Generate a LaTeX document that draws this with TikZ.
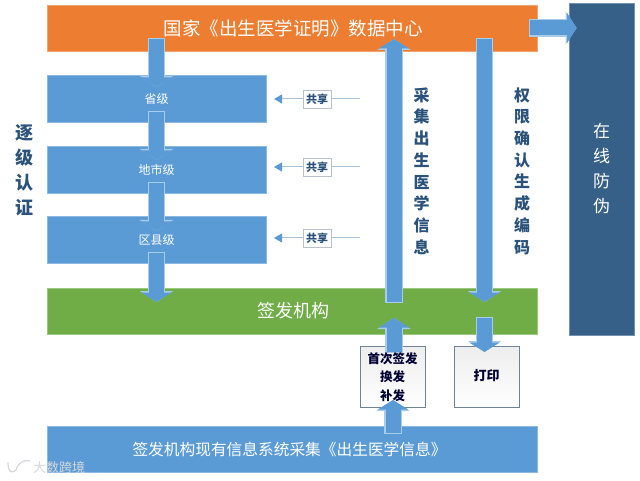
\documentclass[tikz,border=0pt]{standalone}
\usepackage{fontspec}
\setmainfont{Noto Sans CJK SC}
\usetikzlibrary{arrows.meta,shadings}
\definecolor{orangebar}{HTML}{ED7D31}
\definecolor{bluebar}{HTML}{5B9BD5}
\definecolor{greenbar}{HTML}{70AD47}
\definecolor{darkbar}{HTML}{376088}
\definecolor{edgeblue}{HTML}{A9CCEA}
\definecolor{labelblue}{HTML}{2A527A}
\definecolor{thinline}{HTML}{A9C2D8}
\definecolor{boxedge}{HTML}{6F8296}
\definecolor{marktext}{HTML}{D4D8DC}
\newcommand{\fs}[2]{\fontsize{#1}{#2}\selectfont}
\tikzset{
  x=1pt,y=-1pt,
  bar/.style={rectangle,inner sep=0pt,outer sep=0pt,text=white,draw=#1!70!white,fill=#1,line width=0.8pt},
  blockarrow/.style={draw=bluebar,line width=15pt,-{Triangle[width=30pt,length=9.5pt]},
    preaction={draw=edgeblue,line width=17.5pt,shorten <=-1pt,-{Triangle[width=33pt,length=11pt]}}},
  thinarrow/.style={draw=thinline,line width=1pt,-{Triangle[width=9pt,length=8pt,color=bluebar]}},
  sharebox/.style={rectangle,draw=boxedge!50!white,fill=white,line width=0.5pt,inner sep=0pt,outer sep=0pt,
    minimum width=28pt,minimum height=18pt,text=labelblue,font=\fs{11}{13}\bfseries},
  whitebox/.style={rectangle,draw=boxedge,top color=black!7,bottom color=white,line width=1pt,inner sep=0pt,outer sep=0pt,
    minimum width=65pt,minimum height=61pt},
  vlabel/.style={text=labelblue,align=center,inner sep=0pt,font=\bfseries},
}
\begin{document}
\begin{tikzpicture}
\useasboundingbox (0,0) rectangle (640,481);
\fill[white] (0,0) rectangle (640,481);
% bars
\node[bar=orangebar,minimum width=490pt,minimum height=46pt,font=\fs{18.5}{22}] (center) at (292,28) {};
\node[text=white,inner sep=0pt,font=\fs{18.5}{22}] (centertext) at (293,28) {国家《出生医学证明》数据中心};
\node[bar=bluebar,minimum width=219pt,minimum height=47pt,font=\fs{12}{14}] (prov) at (156.5,98.5) {省级};
\node[bar=bluebar,minimum width=219pt,minimum height=47pt,font=\fs{12}{14}] (city) at (156.5,169.5) {地市级};
\node[bar=bluebar,minimum width=219pt,minimum height=47pt,font=\fs{12}{14}] (county) at (156.5,239.5) {区县级};
\node[bar=greenbar,minimum width=490pt,minimum height=46pt,font=\fs{18}{22}] (issuer) at (292,311) {};
\node[text=white,inner sep=0pt,font=\fs{18}{22}] (issuertext) at (293,311) {签发机构};
\node[bar=bluebar,minimum width=490pt,minimum height=46pt,font=\fs{15.5}{18}] (system) at (292,449) {};
\node[bar=darkbar,minimum width=65pt,minimum height=332pt,align=center,font=\fs{17}{25}] (antifake) at (601.5,169) {在\\线\\防\\伪};
\node[whitebox] (issuebox) at (392.5,376.5) {};
\node[whitebox] (printbox) at (486.5,376.5) {};
% arrow end points
\coordinate (a1s) at (156.5,39);  \coordinate (a1e) at (156.5,87);
\coordinate (a2s) at (156.5,112); \coordinate (a2e) at (156.5,160);
\coordinate (a3s) at (156.5,183); \coordinate (a3e) at (156.5,231);
\coordinate (a4s) at (156.5,253); \coordinate (a4e) at (156.5,302);
\coordinate (ups) at (394,302);   \coordinate (upe) at (394,39);
\coordinate (dns) at (484.5,39);  \coordinate (dne) at (484.5,302);
\coordinate (us2) at (394,352);   \coordinate (ue2) at (394,318);
\coordinate (ds2) at (484.5,318); \coordinate (de2) at (484.5,352);
\coordinate (us3) at (393,433);   \coordinate (ue3) at (393,400);
\coordinate (rs) at (530,28);     \coordinate (re) at (576.5,28);
% block arrows
\draw[blockarrow] (a1s) -- (a1e);
\draw[blockarrow] (a2s) -- (a2e);
\draw[blockarrow] (a3s) -- (a3e);
\draw[blockarrow] (a4s) -- (a4e);
\draw[blockarrow] (ups) -- (upe);
\draw[blockarrow] (dns) -- (dne);
\draw[blockarrow] (us2) -- (ue2);
\draw[blockarrow] (ds2) -- (de2);
\draw[blockarrow] (us3) -- (ue3);
\draw[blockarrow] (rs) -- (re);
% share arrows
\coordinate (t1) at (360,99);
\coordinate (t2) at (360,167);
\coordinate (t3) at (360,238);
\draw[thinarrow,shorten >=8pt] (t1) -- (t1 -| prov.east);
\draw[thinarrow,shorten >=8pt] (t2) -- (t2 -| city.east);
\draw[thinarrow,shorten >=8pt] (t3) -- (t3 -| county.east);
\node[sharebox] (s1) at (317,99) {共享};
\node[sharebox] (s2) at (317,167) {共享};
\node[sharebox] (s3) at (317,238) {共享};
% labels
\node[text=white,inner sep=0pt,font=\fs{15.7}{18}] (systemtext) at (289.5,450) {签发机构现有信息系统采集《出生医学信息》};
\node[vlabel,font=\fs{18}{25}\bfseries] (l1) at (25,170.5) {逐\\级\\认\\证};
\node[vlabel,font=\fs{16}{21.7}\bfseries] (l2) at (421.5,171) {采\\集\\出\\生\\医\\学\\信\\息};
\node[vlabel,font=\fs{16}{21.7}\bfseries] (l3) at (522,171) {权\\限\\确\\认\\生\\成\\编\\码};
\node[align=center,inner sep=0pt,text=black!80!blue,font=\fs{12.5}{18.5}\bfseries] (issuetext) at (392.5,377) {首次签发\\换发\\补发};
\node[inner sep=0pt,text=black!80!blue,font=\fs{13}{16}\bfseries] (printtext) at (486.5,376) {打印};
% watermark
\draw[marktext,line width=1.2pt,line cap=round] (8,463) .. controls (8,472) and (12,474) .. (16,470)
  .. controls (18,463) and (24,459) .. (30,461);
\node[inner sep=0pt,text=marktext,font=\fs{13}{15}] (mark) at (59,468) {大数跨境};
\end{tikzpicture}
\end{document}
